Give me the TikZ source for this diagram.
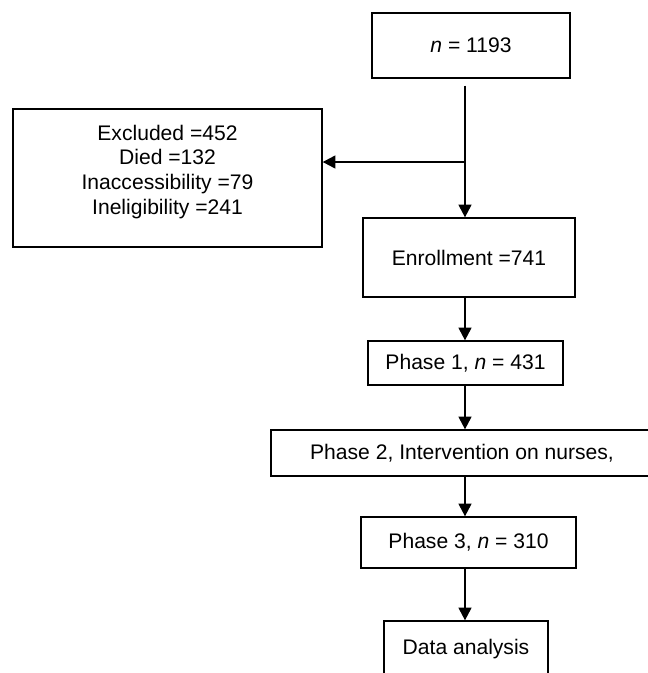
\documentclass[tikz,border=0pt]{standalone}
\usepackage{fontspec}
\setmainfont{Liberation Sans}
\usetikzlibrary{arrows.meta}
\begin{document}
\begin{tikzpicture}[x=0.025cm,y=-0.025cm,
  boite/.style={draw,line width=0.9pt,inner sep=0pt,align=center,font=\fontsize{15}{17.7}\selectfont},
  fleche/.style={line width=1.6pt,-{Triangle[length=9pt,width=9pt]}}]
\pgfmathsetmacro{\xaxe}{465}
\pgfmathsetmacro{\ysplit}{162}
\useasboundingbox (0,0) rectangle (648,673);
\clip (0,0) rectangle (648,673);
  \node[boite,minimum width=4.95cm,minimum height=1.625cm] (total) at (471,45.5) {\textit{n} = 1193};
  \node[boite,minimum width=7.725cm,minimum height=3.45cm] (exclus) at (167.5,178)
    {Excluded =452\\Died =132\\Inaccessibility =79\\Ineligibility =241\\[-6pt]\mbox{}};
  \node[boite,minimum width=5.3cm,minimum height=1.975cm] (inscrits) at (469,257.5) {Enrollment =741};
  \node[boite,minimum width=4.875cm,minimum height=1.1cm] (phaseun) at (465.5,363) {Phase 1, \textit{n} = 431};
  \node[boite,minimum width=9.55cm,minimum height=1.15cm] (phasedeux) at (462,453) {Phase 2, Intervention on nurses,};
  \node[boite,minimum width=5.375cm,minimum height=1.275cm] (phasetrois) at (468.5,542.5) {Phase 3, \textit{n} = 310};
  \node[boite,minimum width=4.1cm,minimum height=1.4cm] (analyse) at (466,649) {Data analysis};
  \coordinate (split) at (\xaxe,\ysplit);
  \draw[line width=1.1pt] ([yshift=-5pt]total.south -| split) -- (split);
  \draw[fleche] (split) -- (exclus.east |- split);
  \draw[fleche] (split) -- (inscrits.north -| split);
  \draw[fleche] (inscrits.south -| split) -- (phaseun.north -| split);
  \draw[fleche] (phaseun.south -| split) -- (phasedeux.north -| split);
  \draw[fleche] (phasedeux.south -| split) -- (phasetrois.north -| split);
  \draw[fleche] (phasetrois.south -| split) -- (analyse.north -| split);
\end{tikzpicture}
\end{document}
